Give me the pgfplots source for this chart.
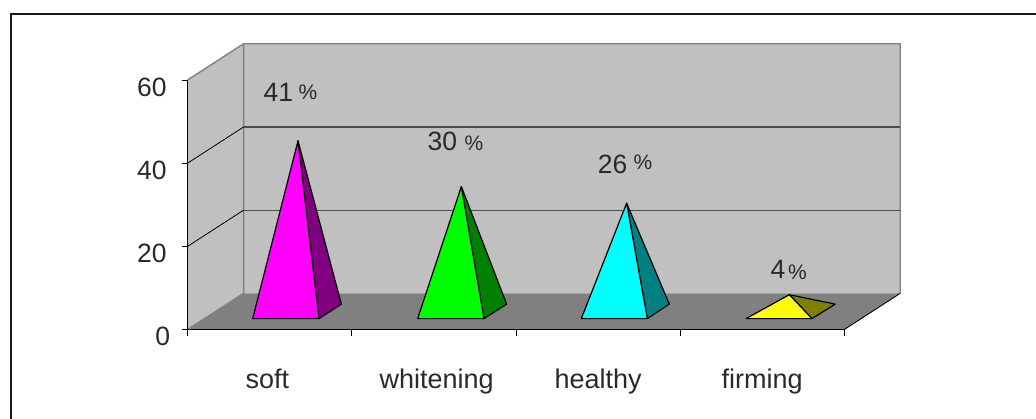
\documentclass[border=0pt]{standalone}
\usepackage{pgfplots}
\usepackage{fontspec}
\setmainfont{Liberation Sans}
\pgfplotsset{compat=1.18}

\definecolor{wallgrey}{HTML}{C0C0C0}
\definecolor{floorgrey}{HTML}{808080}
\definecolor{inktext}{HTML}{2A2A2A}
\definecolor{softfront}{HTML}{FF00FF}
\definecolor{softside}{HTML}{800080}
\definecolor{whitefront}{HTML}{00FF00}
\definecolor{whiteside}{HTML}{008000}
\definecolor{healthfront}{HTML}{00FFFF}
\definecolor{healthside}{HTML}{008080}
\definecolor{firmfront}{HTML}{FFFF00}
\definecolor{firmside}{HTML}{808000}

% One pyramid: base corners in x (front left, front right, back right),
% apex x, the value, then front and side colours.
% Heights are measured from the centre of the base, 4.36 units above the floor line.
\newcommand{\pyramid}[7]{%
  \addplot[draw=black,line width=1.2pt,line join=round,fill=#7] table[x=x,y expr=\thisrow{h}+4.36,row sep=\\]{
    x h\\ #2 -1.74\\ #3 1.74\\ #4 #5\\ #2 -1.74\\
  };
  \addplot[draw=black,line width=1.2pt,line join=round,fill=#6] table[x=x,y expr=\thisrow{h}+4.36,row sep=\\]{
    x h\\ #1 -1.74\\ #2 -1.74\\ #4 #5\\ #1 -1.74\\
  };
}
\newcommand{\numfont}{\fontsize{26.5}{30}\selectfont}
\newcommand{\pctfont}{\fontsize{21}{24}\selectfont}

\begin{document}
\begin{tikzpicture}[x=1pt,y=1pt]
\path[use as bounding box] (0,0) rectangle (1036,-419);
\fill[white] (0,0) rectangle (1036,-419);
\draw[black!90,line width=2pt] (10.5,-419) -- (10.5,-14.5) -- (1036,-14.5);
\begin{axis}[
  at={(187.7pt,-329.5pt)},anchor=origin,
  scale only axis,width=656.6pt,height=249.6pt,
  xmin=0,xmax=4,ymin=0,ymax=60,
  clip=false,
  axis lines=left,
  axis line style={-,black,line width=0.8pt},
  x axis line style={-},
  xtick={0.486,1.517,2.5,3.5},
  xticklabels={soft,whitening,healthy,firming},
  minor xtick={0,1,2,3,4},
  ytick={20,40,60},
  extra y ticks={0},
  extra y tick style={yticklabel style={xshift=3.5pt}},
  tick align=outside,
  major tick length=6pt,
  minor tick length=6pt,
  x tick style={draw=none},
  minor x tick style={draw=black,line width=0.8pt},
  y tick style={draw=black,line width=0.8pt},
  tick label style={font=\numfont,text=inktext},
  /pgf/number format/assume math mode=true,
  yticklabel style={yshift=-7pt,xshift=-11.5pt},
  xticklabel style={yshift=-28pt,font=\fontsize{27}{30}\selectfont\strut},
]
% side wall, back wall and floor
\addplot[fill=wallgrey,draw=none] coordinates {(0,0) (0.341,8.7) (0.341,68.7) (0,60) (0,0)};
\addplot[fill=wallgrey,draw=none] coordinates {(0.341,8.7) (4.341,8.7) (4.341,68.7) (0.341,68.7) (0.341,8.7)};
\addplot[fill=floorgrey,draw=none] coordinates {(0,0) (4,0) (4.341,8.7) (0.341,8.7) (0,0)};
% wall outlines
\addplot[floorgrey,line width=1.4pt] coordinates {(0,60) (0.341,68.7) (4.341,68.7) (4.341,8.7)};
\addplot[floorgrey,line width=1.4pt] coordinates {(0.341,68.7) (0.341,8.7) (0,0)};
% gridlines round the walls
\addplot[black,line width=0.8pt] coordinates {(0,20) (0.341,28.7)};
\addplot[black,line width=0.8pt] coordinates {(0,40) (0.341,48.7)};
\addplot[black!70,line width=1.2pt] coordinates {(0.341,28.7) (4.341,28.7)};
\addplot[black!70,line width=1.2pt] coordinates {(0.341,48.7) (4.341,48.7)};
% floor front edges
\addplot[black,line width=0.9pt] coordinates {(4,0) (4.341,8.7)};
\addplot[black,line width=0.9pt] coordinates {(0,0) (4,0)};
\addplot[black,line width=0.9pt] coordinates {(0,0) (0,60)};

\pyramid{0.396}{0.800}{0.936}{0.672}{41}{softfront}{softside}
\pyramid{1.401}{1.805}{1.943}{1.667}{30}{whitefront}{whiteside}
\pyramid{2.398}{2.800}{2.934}{2.674}{26}{healthfront}{healthside}
\pyramid{3.401}{3.803}{3.945}{3.665}{4}{firmfront}{firmside}

% percentage labels
\path (axis cs:0.553,57.1) node[text=inktext,font=\numfont] {41};
\path (axis cs:0.733,57.0) node[text=inktext,font=\pctfont] {\%};
\path (axis cs:1.552,45.3) node[text=inktext,font=\numfont] {30};
\path (axis cs:1.744,44.8) node[text=inktext,font=\pctfont] {\%};
\path (axis cs:2.588,39.8) node[text=inktext,font=\numfont] {26};
\path (axis cs:2.774,40.3) node[text=inktext,font=\pctfont] {\%};
\path (axis cs:3.596,14.5) node[text=inktext,font=\numfont] {4};
\path (axis cs:3.715,13.8) node[text=inktext,font=\pctfont] {\%};
\end{axis}
\end{tikzpicture}
\end{document}
